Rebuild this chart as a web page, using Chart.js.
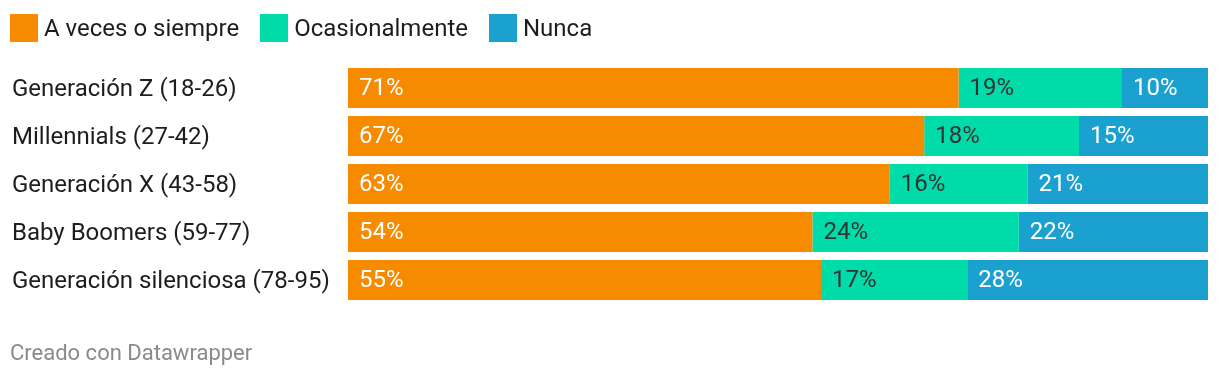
<!DOCTYPE html>
<html><head><meta charset="utf-8">
<script src="https://cdn.jsdelivr.net/npm/chart.js@4"></script>
<style>
html,body{margin:0;padding:0;background:#fff;width:1220px;height:378px;overflow:hidden;font-family:Roboto,sans-serif;}
#wrap{position:relative;width:1220px;height:378px;}
canvas{position:absolute;left:0;top:0;}
#legend{position:absolute;left:10px;top:14px;display:flex;align-items:center;font-size:24px;color:#1d1d1d;height:28px;}
#legend .it{display:flex;align-items:center;margin-right:21px;}
#legend .sw{width:28px;height:28px;margin-right:6px;}
#footer{position:absolute;left:10px;top:340px;font-size:22px;color:#8a8a8a;}
</style></head>
<body><div id="wrap"><canvas id="c" width="1220" height="378"></canvas><div id="legend"></div><div id="footer">Creado con Datawrapper</div></div>
<script>
const categories = ["Generación Z (18-26)","Millennials (27-42)","Generación X (43-58)","Baby Boomers (59-77)","Generación silenciosa (78-95)"];
const seriesNames = ["A veces o siempre","Ocasionalmente","Nunca"];
const aVecesSiempre = [71,67,63,54,55];
const ocasionalmente = [19,18,16,24,17];
const nunca = [10,15,21,22,28];
const colors = ["#f78b00","#00dca9","#1aa1cf"];
const labelColors = ["#ffffff","#333333","#ffffff"];

const lg = document.getElementById('legend');
seriesNames.forEach((n,i)=>{
  const it=document.createElement('div');it.className='it';
  const sw=document.createElement('div');sw.className='sw';sw.style.background=colors[i];
  const t=document.createElement('span');t.textContent=n;
  it.appendChild(sw);it.appendChild(t);lg.appendChild(it);
});

const valueLabels = {
  id:'valueLabels',
  afterDatasetsDraw(chart){
    const ctx=chart.ctx;
    ctx.save();
    ctx.font='24px Roboto';
    ctx.textBaseline='middle';
    ctx.textAlign='left';
    chart.data.datasets.forEach((ds,di)=>{
      const meta=chart.getDatasetMeta(di);
      meta.data.forEach((bar,i)=>{
        const left=Math.min(bar.x,bar.base);
        ctx.fillStyle=labelColors[di];
        ctx.fillText(ds.data[i]+'%',left+11,bar.y+1);
      });
    });
    ctx.restore();
  }
};

new Chart(document.getElementById('c'),{
  type:'bar',
  data:{
    labels:categories,
    datasets:[aVecesSiempre,ocasionalmente,nunca].map((d,i)=>({
      label:seriesNames[i],data:d,backgroundColor:colors[i],borderWidth:0,
      barPercentage:40/48,categoryPercentage:1
    }))
  },
  options:{
    indexAxis:'y',
    responsive:false,
    animation:false,
    layout:{padding:{left:12,right:12,top:64,bottom:74}},
    plugins:{legend:{display:false},tooltip:{enabled:false}},
    scales:{
      x:{stacked:true,min:0,max:100,display:false},
      y:{stacked:true,
        grid:{display:false,drawTicks:false},border:{display:false},
        ticks:{crossAlign:'far',color:'#1d1d1d',font:{family:'Roboto',size:24},padding:0,labelOffset:2},
        afterFit(s){s.width=336;}
      }
    }
  },
  plugins:[valueLabels]
});
</script></body></html>
